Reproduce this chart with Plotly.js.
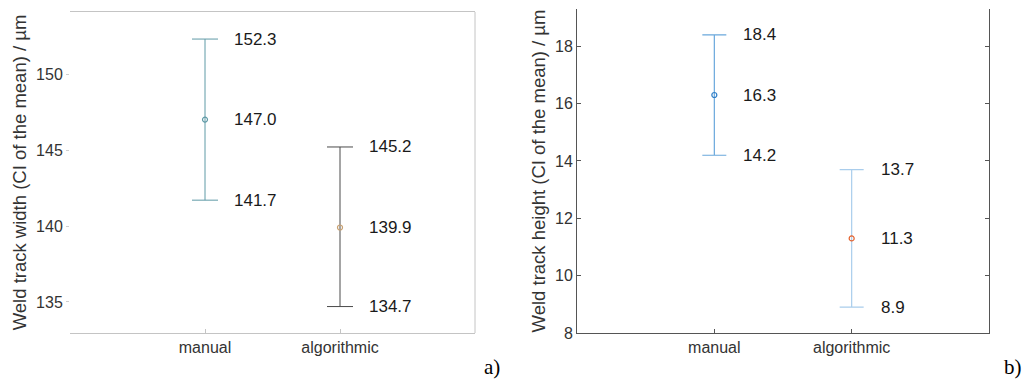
<!DOCTYPE html>
<html>
<head>
<meta charset="utf-8">
<script src="https://cdn.plot.ly/plotly-3.0.1.min.js"></script>
<style>html,body{margin:0;padding:0;background:#fff;}#chart{width:1026px;height:381px;}</style>
</head>
<body>
<div id="chart"></div>
<script>
// Data
const categories = ['manual', 'algorithmic'];
const widthMean = [147.0, 139.9];
const widthLower = [141.7, 134.7];
const widthUpper = [152.3, 145.2];
const heightMean = [16.3, 11.3];
const heightLower = [14.2, 8.9];
const heightUpper = [18.4, 13.7];
const widthTicks = [135, 140, 145, 150];
const heightTicks = [8, 10, 12, 14, 16, 18];

// Styles
const FONT = 'Liberation Sans, Arial, Helvetica, sans-serif';
const aBarColors = ['#5f9aa6', '#4a4a4a'];
const aMarkerColors = ['#5f9aa6', '#c8a070'];
const bBarColors = ['#6aa8dc', '#a9cdec'];
const bMarkerColors = ['#2f7fc8', '#e4622e'];

const traces = [];
function addPanel(means, lower, upper, barColors, markerColors, xa, ya, barW, capW) {
  categories.forEach((c, i) => {
    traces.push({
      type: 'scatter', mode: 'markers', x: [c], y: [means[i]],
      xaxis: xa, yaxis: ya, showlegend: false, hoverinfo: 'skip',
      marker: {symbol: 'circle-open', size: 5, color: markerColors[i], line: {width: 1.2, color: markerColors[i]}},
      error_y: {type: 'data', symmetric: false, array: [upper[i] - means[i]], arrayminus: [means[i] - lower[i]],
        color: barColors[i], thickness: barW, width: capW}
    });
  });
}
addPanel(widthMean, widthLower, widthUpper, aBarColors, aMarkerColors, 'x', 'y', 1, 13);
addPanel(heightMean, heightLower, heightUpper, bBarColors, bMarkerColors, 'x2', 'y2', 1.2, 12);

const annotations = [];
function addLabels(means, lower, upper, xr, yr) {
  categories.forEach((c, i) => {
    [upper[i], means[i], lower[i]].forEach(v => {
      annotations.push({x: c, y: v, xref: xr, yref: yr, text: v.toFixed(1), showarrow: false,
        xanchor: 'left', yanchor: 'middle', xshift: 27, font: {family: FONT, size: 17, color: '#1a1a1a'}});
    });
  });
}
addLabels(widthMean, widthLower, widthUpper, 'x', 'y');
addLabels(heightMean, heightLower, heightUpper, 'x2', 'y2');
annotations.push({xref: 'paper', yref: 'paper', x: 492/1026, y: 1 - 367/381, text: 'a)', showarrow: false,
  xanchor: 'center', yanchor: 'middle', font: {family: 'Liberation Serif, Times New Roman, serif', size: 21, color: '#000'}});
annotations.push({xref: 'paper', yref: 'paper', x: 1013/1026, y: 1 - 367/381, text: 'b)', showarrow: false,
  xanchor: 'center', yanchor: 'middle', font: {family: 'Liberation Serif, Times New Roman, serif', size: 21, color: '#000'}});

const tickFont = {family: FONT, size: 16, color: '#333'};
const titleFont = {family: FONT, size: 18.5, color: '#333'};
const layout = {
  width: 1026, height: 381,
  margin: {l: 0, r: 0, t: 0, b: 0},
  paper_bgcolor: '#fff', plot_bgcolor: '#fff',
  showlegend: false,
  xaxis: {domain: [70/1026, 475/1026], anchor: 'y', type: 'category', range: [-1, 2],
    showline: true, mirror: true, linecolor: '#c4c4c4', linewidth: 1,
    ticks: 'inside', ticklen: 4, tickcolor: '#c4c4c4', showgrid: false, zeroline: false,
    tickfont: tickFont, automargin: false},
  yaxis: {domain: [1 - 333/381, 1 - 12/381], anchor: 'x', range: [132.96, 154.08],
    tickvals: widthTicks, showline: false, ticks: 'outside', ticklen: 3, tickcolor: '#cfcfcf',
    showgrid: false, zeroline: false, tickfont: tickFont, automargin: false,
    title: {text: 'Weld track width (CI of the mean) / µm', font: titleFont, standoff: 4}},
  xaxis2: {domain: [577/1026, 989/1026], anchor: 'y2', type: 'category', range: [-1, 2],
    showline: true, mirror: false, linecolor: '#555', linewidth: 1,
    ticks: 'inside', ticklen: 4, tickcolor: '#555', showgrid: false, zeroline: false,
    tickfont: tickFont, automargin: false},
  yaxis2: {domain: [1 - 333/381, 1 - 9/381], anchor: 'x2', range: [8, 19.3],
    tickvals: heightTicks, showline: true, mirror: 'ticks', linecolor: '#555', linewidth: 1,
    ticks: 'inside', ticklen: 4, tickcolor: '#555',
    showgrid: false, zeroline: false, tickfont: tickFont, automargin: false,
    title: {text: 'Weld track height (CI of the mean) / µm', font: titleFont, standoff: 4}},
  annotations: annotations,
  shapes: [
    {type: 'line', xref: 'x domain', yref: 'y domain', x0: 1, x1: 1, y0: 0, y1: 1, line: {color: '#c4c4c4', width: 1}}
  ]
};

Plotly.newPlot('chart', traces, layout, {displayModeBar: false, staticPlot: true});
</script>
</body>
</html>
